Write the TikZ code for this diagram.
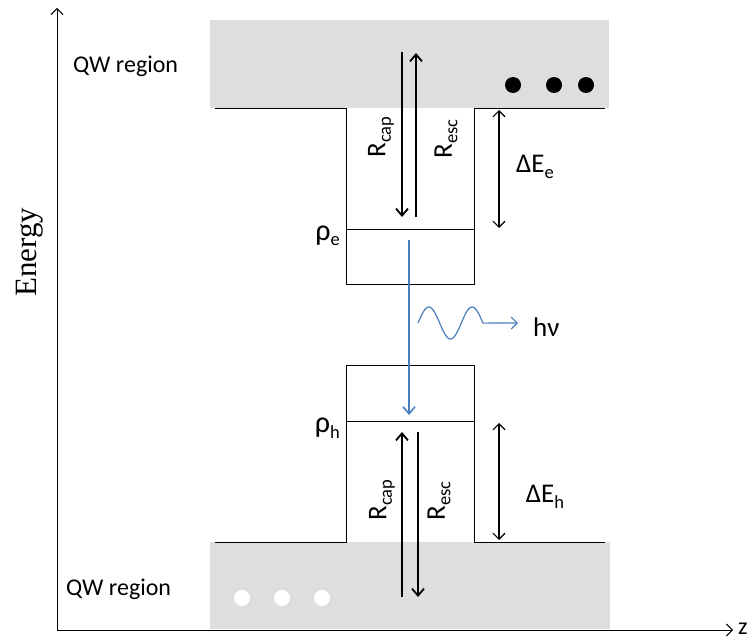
\documentclass[tikz,border=0pt]{standalone}
\usepackage{fontspec}
\setmainfont{Carlito}
\newfontfamily\serifE{Liberation Serif}
\usetikzlibrary{arrows.meta}
\definecolor{bandgray}{RGB}{222,222,222}
\definecolor{photon}{RGB}{74,126,187}
\newcommand\sbx[1]{\raisebox{-5.5pt}{\fontsize{18.5}{18.5}\selectfont #1}}
\newcommand\rhox{{\fontsize{30}{30}\selectfont ρ}}
\begin{document}
\begin{tikzpicture}[x=1pt,y=-1pt,
  lbl/.style={font=\fontsize{27}{30}\selectfont, inner sep=0pt},
  qw/.style={font=\fontsize{24}{28}\selectfont, inner sep=0pt},
  well/.style={line width=1pt},
  rate/.style={line width=2pt, -{Straight Barb[length=7pt,width=12pt,line width=1.8pt]}},
  dE/.style={line width=1.2pt, {Straight Barb[length=6pt,width=12pt]}-{Straight Barb[length=6pt,width=12pt]}},
  ax/.style={line width=1pt, -{Straight Barb[length=6pt,width=12pt]}},
  band/.style={fill=bandgray, draw=none},
  photonarrow/.style={draw=photon, line width=2pt, -{Straight Barb[length=7pt,width=12pt,line width=1.6pt]}},
  wave/.style={draw=photon, line width=1.2pt, -{Straight Barb[length=6pt,width=12pt]}},
  ]
\useasboundingbox (0,0) rectangle (752,642);

% bands
\fill[band] (210,20) rectangle (609,108);
\fill[band] (210,542) rectangle (610,629);

% wells
\draw[well] (215,108) -- (346,108) -- (346,284) -- (474,284) -- (474,108) -- (605,108);
\draw[well] (215,542) -- (346,542) -- (346,365) -- (474,365) -- (474,542) -- (605,542);
\draw[well] (346,229) -- (474,229);
\draw[well] (346,421) -- (474,421);

% dots
\foreach \x in {513,554,586} \fill[black] (\x,85) circle (8);
\foreach \x in {242,282,322} \fill[white] (\x,598) circle (8);

% axes
\coordinate (O) at (57,630);
\coordinate (ytop) at (57,8);
\coordinate (xend) at (733,630);
\draw[ax] (O) -- (ytop);
\draw[ax] (O) -- (xend);
\node[qw, anchor=west] (zlab) at (738,629) {z};
\node[font=\serifE\fontsize{31}{34}\selectfont, rotate=90, inner sep=0pt] (energy) at (30,252) {Energy};

% QW region labels
\node[qw, anchor=base west] (qwtop) at (73,73) {QW region};
\node[qw, anchor=base west] (qwbot) at (66,595) {QW region};

% upper rates
\coordinate (capeA) at (402,52);
\coordinate (capeB) at (402,217);
\coordinate (esceA) at (416,217);
\coordinate (esceB) at (416,53);
\draw[rate] (capeA) -- (capeB);
\draw[rate] (esceA) -- (esceB);
\node[lbl, rotate=90] (Rcape) at (381,137) {R\sbx{cap}};
\node[lbl, rotate=90] (Resce) at (446,139) {R\sbx{esc}};

% lower rates
\coordinate (caphA) at (402,597);
\coordinate (caphB) at (402,432);
\coordinate (eschA) at (418,432);
\coordinate (eschB) at (418,597);
\draw[rate] (caphA) -- (caphB);
\draw[rate] (eschA) -- (eschB);
\node[lbl, rotate=90] (Rcaph) at (382,500) {R\sbx{cap}};
\node[lbl, rotate=90] (Resch) at (439,501) {R\sbx{esc}};

% Delta E
\coordinate (dEeA) at (499,110);
\coordinate (dEeB) at (499,228);
\draw[dE] (dEeA) -- (dEeB);
\node[lbl] (dEe) at (535,167) {ΔE\sbx{e}};
\coordinate (dEhA) at (499,423);
\coordinate (dEhB) at (499,540);
\draw[dE] (dEhA) -- (dEhB);
\node[lbl] (dEh) at (545,497) {ΔE\sbx{h}};

% rho labels
\node[lbl, anchor=east] (rhoe) at (340,236) {\rhox\sbx{e}};
\node[lbl, anchor=east] (rhoh) at (340,428) {\rhox\sbx{h}};

% photon transition
\coordinate (trA) at (409,240);
\coordinate (trB) at (409,415);
\draw[photonarrow] (trA) -- (trB);
\coordinate (hvtip) at (518,323);
\draw[wave] plot[domain=0:65, samples=80, smooth] ({418+\x},{323-16*sin(8.314*\x)}) -- (hvtip);
\node[lbl, anchor=base west] (hv) at (533,336) {hν};
\end{tikzpicture}
\end{document}
